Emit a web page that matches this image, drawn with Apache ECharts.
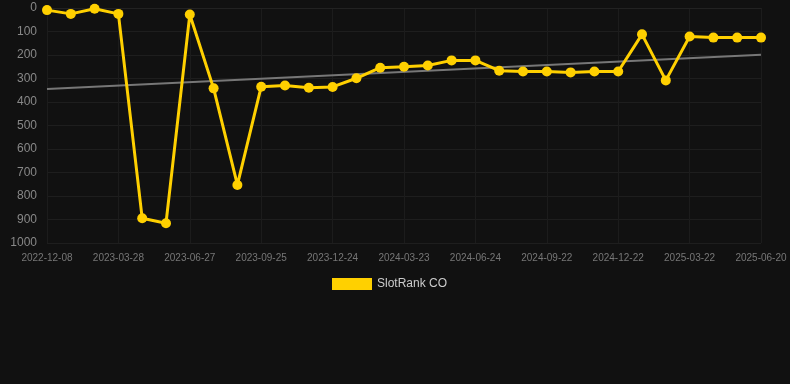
<!DOCTYPE html>
<html>
<head>
<meta charset="utf-8">
<script src="https://cdn.jsdelivr.net/npm/echarts@6/dist/echarts.min.js"></script>
<style>
html,body{margin:0;padding:0;background:#111111;}
#chart{width:790px;height:384px;}
</style>
</head>
<body>
<div id="chart"></div>
<script>
const categories = [
  '2022-12-08','2023-01-15','2023-02-20','2023-03-28','2023-04-27','2023-05-27','2023-06-27',
  '2023-07-27','2023-08-26','2023-09-25','2023-10-25','2023-11-24','2023-12-24','2024-01-23',
  '2024-02-22','2024-03-23','2024-04-23','2024-05-24','2024-06-24','2024-07-24','2024-08-23',
  '2024-09-22','2024-10-22','2024-11-21','2024-12-22','2025-01-21','2025-02-20','2025-03-22',
  '2025-04-21','2025-05-21','2025-06-20'
];
const rankValues = [
  9, 25, 3, 25, 895, 916, 28,
  342, 753, 335, 330, 339, 336, 299,
  254, 250, 245, 223, 223, 267, 270,
  270, 274, 270, 270, 112, 308, 121,
  126, 126, 126
];
const trendStart = 345;
const trendEnd = 199;
const trendValues = categories.map((c, i) => i === 0 ? trendStart : (i === categories.length - 1 ? trendEnd : null));
const seriesName = 'SlotRank CO';

const chart = echarts.init(document.getElementById('chart'));
chart.setOption({
  backgroundColor: '#111111',
  animation: false,
  grid: { left: 47, right: 29, top: 8, bottom: 141 },
  legend: {
    data: [{ name: seriesName, icon: 'rect' }],
    top: 273,
    left: 327,
    itemWidth: 40,
    itemHeight: 12,
    itemGap: 10,
    textStyle: { color: '#cccccc', fontSize: 12, fontFamily: 'Liberation Sans, Arial, sans-serif' }
  },
  xAxis: {
    type: 'category',
    data: categories,
    boundaryGap: false,
    axisLine: { show: true, lineStyle: { color: '#222222' } },
    axisTick: { show: false },
    axisLabel: { interval: 2, color: '#777777', fontSize: 10, fontFamily: 'Liberation Sans, Arial, sans-serif', margin: 10 },
    splitLine: { show: true, interval: 2, lineStyle: { color: '#1c1c1c' } }
  },
  yAxis: {
    type: 'value',
    inverse: true,
    min: 0,
    max: 1000,
    interval: 100,
    axisLine: { show: false },
    axisTick: { show: false },
    axisLabel: { color: '#888888', fontSize: 12, fontFamily: 'Liberation Sans, Arial, sans-serif', margin: 10, formatter: v => String(v) },
    splitLine: { show: true, lineStyle: { color: '#1e1e1e' } }
  },
  series: [
    {
      name: seriesName,
      type: 'line',
      data: rankValues,
      symbol: 'circle',
      symbolSize: 10,
      itemStyle: { color: '#FFD000' },
      lineStyle: { color: '#FFD000', width: 3 },
      z: 3
    },
    {
      name: 'trend',
      type: 'line',
      data: trendValues,
      connectNulls: true,
      symbol: 'none',
      lineStyle: { color: '#777777', width: 2 },
      itemStyle: { color: '#777777' },
      z: 2
    }
  ]
});
</script>
</body>
</html>
